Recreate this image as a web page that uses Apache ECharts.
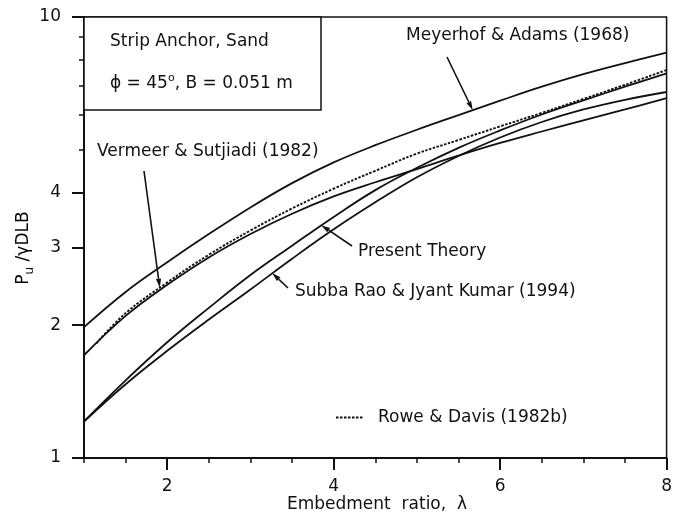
<!DOCTYPE html>
<html><head><meta charset="utf-8">
<script src="https://cdn.jsdelivr.net/npm/echarts@6/dist/echarts.min.js"></script>
<style>html,body{margin:0;padding:0;background:#fff}#c{width:675px;height:518px}</style>
</head><body><div id="c"></div>
<script>
// ---- data ----
const lambda = [1, 1.5, 2, 2.5, 3, 3.5, 4, 4.5, 5, 5.5, 6, 6.5, 7, 7.5, 8];
const meyerhofAdams   = [1.98, 2.38, 2.78, 3.22, 3.70, 4.20, 4.68, 5.12, 5.55, 5.99, 6.46, 6.95, 7.42, 7.86, 8.30];
const vermeerSutjiadi = [1.71, 2.10, 2.47, 2.85, 3.22, 3.58, 3.92, 4.22, 4.52, 4.85, 5.18, 5.50, 5.83, 6.17, 6.55];
const presentTheory   = [1.21, 1.50, 1.83, 2.19, 2.60, 3.03, 3.52, 4.05, 4.55, 5.05, 5.53, 6.01, 6.47, 6.95, 7.45];
const subbaRaoKumar   = [1.21, 1.47, 1.75, 2.06, 2.41, 2.83, 3.30, 3.80, 4.33, 4.84, 5.33, 5.78, 6.17, 6.49, 6.76];
const roweDavisLambda = [1.15, 1.5, 2, 2.5, 3, 3.5, 4, 4.5, 5, 5.5, 6, 6.5, 7, 7.5, 8];
const roweDavis       = [1.82, 2.13, 2.50, 2.89, 3.28, 3.68, 4.08, 4.48, 4.90, 5.26, 5.65, 6.06, 6.52, 7.02, 7.58];
const xTickLabels = [2, 4, 6, 8];
const yTickLabels = [1, 2, 3, 4, 10];
const yMinorTicks = [5, 6, 7, 8, 9];

const FONT = 'DejaVu Sans';
const INK = '#111111';
function pairs(xs, ys) { return xs.map((x, i) => [x, ys[i]]); }
function interp(xs, ys, x) {
  for (let i = 0; i < xs.length - 1; i++) {
    if (x >= xs[i] && x <= xs[i + 1]) {
      const t = (x - xs[i]) / (xs[i + 1] - xs[i]);
      return ys[i] + t * (ys[i + 1] - ys[i]);
    }
  }
  return ys[ys.length - 1];
}

const chart = echarts.init(document.getElementById('c'), null, { renderer: 'canvas' });
const solid = { color: INK, width: 1.8 };
function lineSeries(name, data, style) {
  return { name, type: 'line', data, xAxisIndex: 0, yAxisIndex: 0, smooth: 0.4,
    symbol: 'none', showSymbol: false, lineStyle: style, itemStyle: { color: INK }, z: 3 };
}
const option = {
  animation: false,
  backgroundColor: '#fff',
  grid: { left: 84, top: 17, right: 5, bottom: 60, show: true, borderColor: INK, borderWidth: 1.5, backgroundColor: 'transparent' },
  legend: {
    data: ['Rowe & Davis (1982b)'], left: 330, top: 404, itemWidth: 27, itemHeight: 10, itemGap: 0,
    itemStyle: { opacity: 0 },
    textStyle: { fontFamily: FONT, fontSize: 17, color: INK, padding: [0, 0, 0, 10] },
    selectedMode: false
  },
  xAxis: [
    { type: 'value', min: 1, max: 8, position: 'bottom',
      axisLine: { show: true, onZero: false, lineStyle: { color: INK, width: 2 } },
      axisTick: { show: true, inside: false, length: 12, customValues: xTickLabels, lineStyle: { color: INK, width: 2 } },
      axisLabel: { customValues: xTickLabels, fontFamily: FONT, fontSize: 17, color: INK, margin: 20 },
      splitLine: { show: false } },
    { type: 'value', min: 1, max: 8, interval: 0.5, position: 'bottom',
      axisLine: { show: false }, axisTick: { show: true, length: 5, lineStyle: { color: INK, width: 1.5 } },
      axisLabel: { show: false }, splitLine: { show: false } }
  ],
  yAxis: [
    { type: 'log', logBase: 10, min: 1, max: 10, position: 'left',
      axisLine: { show: true, onZero: false, lineStyle: { color: INK, width: 2 } },
      axisTick: { show: true, inside: false, length: 12, customValues: yTickLabels, lineStyle: { color: INK, width: 2 } },
      axisLabel: { customValues: yTickLabels, fontFamily: FONT, fontSize: 17, color: INK, margin: 23 },
      splitLine: { show: false } },
    { type: 'log', logBase: 10, min: 1, max: 10, position: 'left',
      axisLine: { show: false },
      axisTick: { show: true, length: 5, customValues: yMinorTicks, lineStyle: { color: INK, width: 1.5 } },
      axisLabel: { show: false }, splitLine: { show: false } }
  ],
  series: [
    lineSeries('Meyerhof & Adams (1968)', pairs(lambda, meyerhofAdams), solid),
    lineSeries('Vermeer & Sutjiadi (1982)', pairs(lambda, vermeerSutjiadi), solid),
    lineSeries('Present Theory', pairs(lambda, presentTheory), solid),
    lineSeries('Subba Rao & Jyant Kumar (1994)', pairs(lambda, subbaRaoKumar), solid),
    lineSeries('Rowe & Davis (1982b)', pairs(roweDavisLambda, roweDavis), { color: INK, width: 1.9, type: [2.5, 1.5] })
  ]
};
chart.setOption(option);

// ---- annotations ----
function px(x, y) { return chart.convertToPixel({ xAxisIndex: 0, yAxisIndex: 0 }, [x, y]); }
function arrow(from, to) {
  const dx = to[0] - from[0], dy = to[1] - from[1];
  const L = Math.sqrt(dx * dx + dy * dy), ux = dx / L, uy = dy / L;
  const hl = 9, hw = 2.6;
  const bx = to[0] - ux * hl, by = to[1] - uy * hl;
  return [
    { type: 'line', shape: { x1: from[0], y1: from[1], x2: bx, y2: by }, style: { stroke: INK, lineWidth: 1.6 }, z: 10 },
    { type: 'polygon', shape: { points: [[to[0], to[1]], [bx - uy * hw, by + ux * hw], [bx + uy * hw, by - ux * hw]] }, style: { fill: INK }, z: 10 }
  ];
}
function label(text, x, y, extra) {
  return Object.assign({ type: 'text', x, y, z: 10,
    style: Object.assign({ text, font: '17px "' + FONT + '"', fill: INK, textAlign: 'left', textVerticalAlign: 'middle' }, extra || {}) });
}
const tipMeyer = px(5.67, interp(lambda, meyerhofAdams, 5.67));
const tipVer = px(1.91, interp(roweDavisLambda, roweDavis, 1.91));
const tipPresent = px(3.85, interp(lambda, presentTheory, 3.85));
const tipSubba = px(3.26, interp(lambda, subbaRaoKumar, 3.26));

const graphics = [
  { type: 'rect', shape: { x: 84, y: 17, width: 237, height: 93 }, style: { fill: '#fff', stroke: INK, lineWidth: 1.5 }, z: 5 },
  label('Strip Anchor, Sand', 110, 42),
  label('{a|ϕ = 45}{s|o}{a|, B = 0.051 m}', 110, 84, {
    rich: { a: { fontFamily: FONT, fontSize: 17, color: INK, lineHeight: 22 },
            s: { fontFamily: FONT, fontSize: 11, color: INK, lineHeight: 11, verticalAlign: 'top' } } }),
  label('Meyerhof & Adams (1968)', 406, 36),
  label('Vermeer & Sutjiadi (1982)', 97, 152),
  label('Present Theory', 358, 252),
  label('Subba Rao & Jyant Kumar (1994)', 295, 292),
  { type: 'text', x: 24, y: 248, rotation: Math.PI / 2, z: 10,
    style: { text: '{p|P}{s|u}{p| /γDLB}', textAlign: 'center', textVerticalAlign: 'middle',
      rich: { p: { fontFamily: FONT, fontSize: 17, color: INK, lineHeight: 24 },
              s: { fontFamily: FONT, fontSize: 12, color: INK, lineHeight: 12, verticalAlign: 'bottom' } } } },
  label('Embedment  ratio,  λ', 377, 505, { textAlign: 'center' })
]
  .concat(arrow([447, 57], tipMeyer))
  .concat(arrow([144, 171], tipVer))
  .concat(arrow([352, 246], tipPresent))
  .concat(arrow([288, 288], tipSubba));
chart.setOption({ graphic: graphics });
</script>
</body></html>
